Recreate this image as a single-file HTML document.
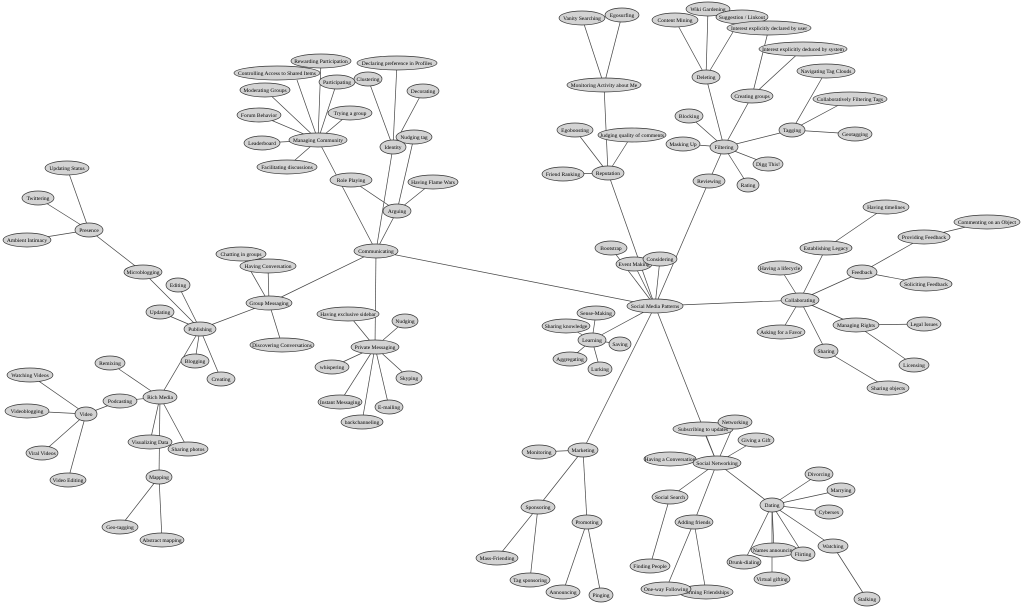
<!DOCTYPE html>
<html><head><meta charset="utf-8"><style>
html,body{margin:0;padding:0;background:#fff;}
svg{display:block}
ellipse{fill:#d3d3d3;stroke:#333;stroke-width:0.7}
text{font-family:"Liberation Serif",serif;font-size:5.5px;text-anchor:middle;fill:#000}
line{stroke:#444;stroke-width:0.7}
</style></head><body>
<svg width="1024" height="609" viewBox="0 0 1024 609">
<g>
<line x1="655" y1="306" x2="376" y2="251"/><line x1="655" y1="306" x2="608" y2="173"/><line x1="655" y1="306" x2="709" y2="181"/>
<line x1="655" y1="306" x2="800" y2="300"/><line x1="655" y1="306" x2="592" y2="340"/><line x1="655" y1="306" x2="583" y2="450"/>
<line x1="655" y1="306" x2="717" y2="463"/><line x1="655" y1="306" x2="611" y2="248"/><line x1="655" y1="306" x2="634" y2="264"/><line x1="655" y1="306" x2="660" y2="259"/>
<line x1="709" y1="181" x2="724" y2="147"/>
<line x1="608" y1="173" x2="604" y2="85"/><line x1="608" y1="173" x2="575" y2="130"/><line x1="608" y1="173" x2="632" y2="135"/><line x1="608" y1="173" x2="563" y2="174"/>
<line x1="604" y1="85" x2="582" y2="18"/><line x1="604" y1="85" x2="622" y2="15"/>
<line x1="724" y1="147" x2="706" y2="77"/><line x1="724" y1="147" x2="752" y2="96"/><line x1="724" y1="147" x2="792" y2="130"/><line x1="724" y1="147" x2="689" y2="116"/>
<line x1="724" y1="147" x2="683" y2="144"/><line x1="724" y1="147" x2="768" y2="164"/><line x1="724" y1="147" x2="748" y2="185"/>
<line x1="706" y1="77" x2="675" y2="20"/><line x1="706" y1="77" x2="708" y2="9"/><line x1="706" y1="77" x2="742" y2="17"/>
<line x1="752" y1="96" x2="769" y2="28"/><line x1="752" y1="96" x2="803" y2="49"/>
<line x1="792" y1="130" x2="826" y2="71"/><line x1="792" y1="130" x2="850" y2="99"/><line x1="792" y1="130" x2="855" y2="134"/>
<line x1="800" y1="300" x2="826" y2="248"/><line x1="800" y1="300" x2="780" y2="268"/><line x1="800" y1="300" x2="862" y2="272"/><line x1="800" y1="300" x2="781" y2="332"/>
<line x1="800" y1="300" x2="856" y2="325"/><line x1="800" y1="300" x2="826" y2="351"/>
<line x1="826" y1="248" x2="886" y2="207"/><line x1="862" y1="272" x2="924" y2="237"/><line x1="862" y1="272" x2="926" y2="284"/><line x1="924" y1="237" x2="987" y2="222"/>
<line x1="856" y1="325" x2="924" y2="324"/><line x1="856" y1="325" x2="914" y2="365"/><line x1="826" y1="351" x2="888" y2="388"/>
<line x1="592" y1="340" x2="596" y2="313"/><line x1="592" y1="340" x2="566" y2="326"/><line x1="592" y1="340" x2="620" y2="344"/><line x1="592" y1="340" x2="570" y2="359"/><line x1="592" y1="340" x2="600" y2="369"/>
<line x1="583" y1="450" x2="539" y2="452"/><line x1="583" y1="450" x2="538" y2="507"/><line x1="583" y1="450" x2="587" y2="522"/>
<line x1="538" y1="507" x2="497" y2="558"/><line x1="538" y1="507" x2="530" y2="580"/><line x1="587" y1="522" x2="563" y2="592"/><line x1="587" y1="522" x2="601" y2="595"/>
<line x1="717" y1="463" x2="735" y2="422"/><line x1="717" y1="463" x2="703" y2="429"/><line x1="717" y1="463" x2="756" y2="440"/><line x1="717" y1="463" x2="670" y2="459"/>
<line x1="717" y1="463" x2="670" y2="497"/><line x1="717" y1="463" x2="694" y2="522"/><line x1="717" y1="463" x2="772" y2="505"/>
<line x1="670" y1="497" x2="650" y2="566"/><line x1="694" y1="522" x2="666" y2="589"/><line x1="694" y1="522" x2="706" y2="592"/>
<line x1="772" y1="505" x2="819" y2="474"/><line x1="772" y1="505" x2="841" y2="490"/><line x1="772" y1="505" x2="829" y2="512"/><line x1="772" y1="505" x2="774" y2="550"/>
<line x1="772" y1="505" x2="803" y2="554"/><line x1="772" y1="505" x2="744" y2="562"/><line x1="772" y1="505" x2="772" y2="579"/><line x1="772" y1="505" x2="833" y2="546"/><line x1="833" y1="546" x2="867" y2="599"/>
<line x1="376" y1="251" x2="318" y2="140"/><line x1="376" y1="251" x2="393" y2="147"/><line x1="376" y1="251" x2="397" y2="211"/><line x1="376" y1="251" x2="269" y2="303"/><line x1="376" y1="251" x2="375" y2="347"/>
<line x1="318" y1="140" x2="321" y2="61"/><line x1="318" y1="140" x2="297" y2="80"/><line x1="318" y1="140" x2="337" y2="82"/><line x1="318" y1="140" x2="265" y2="90"/>
<line x1="318" y1="140" x2="259" y2="115"/><line x1="318" y1="140" x2="350" y2="113"/><line x1="318" y1="140" x2="262" y2="143"/><line x1="318" y1="140" x2="287" y2="167"/>
<line x1="393" y1="147" x2="368" y2="79"/><line x1="393" y1="147" x2="397" y2="63"/><line x1="393" y1="147" x2="423" y2="91"/>
<line x1="397" y1="211" x2="351" y2="180"/><line x1="397" y1="211" x2="433" y2="182"/><line x1="397" y1="211" x2="414" y2="137"/>
<line x1="269" y1="303" x2="200" y2="329"/><line x1="269" y1="303" x2="268" y2="266"/><line x1="269" y1="303" x2="241" y2="254"/><line x1="269" y1="303" x2="282" y2="345"/>
<line x1="200" y1="329" x2="143" y2="272"/><line x1="200" y1="329" x2="178" y2="285"/><line x1="200" y1="329" x2="160" y2="312"/><line x1="200" y1="329" x2="195" y2="361"/><line x1="200" y1="329" x2="221" y2="379"/><line x1="200" y1="329" x2="160" y2="397"/>
<line x1="143" y1="272" x2="89" y2="230"/><line x1="89" y1="230" x2="67" y2="168"/><line x1="89" y1="230" x2="38" y2="198"/><line x1="89" y1="230" x2="27" y2="240"/>
<line x1="160" y1="397" x2="110" y2="363"/><line x1="160" y1="397" x2="120" y2="401"/><line x1="160" y1="397" x2="150" y2="442"/><line x1="160" y1="397" x2="188" y2="449"/><line x1="160" y1="397" x2="159" y2="477"/>
<line x1="120" y1="401" x2="86" y2="414"/><line x1="86" y1="414" x2="30" y2="375"/><line x1="86" y1="414" x2="27" y2="411"/><line x1="86" y1="414" x2="42" y2="453"/><line x1="86" y1="414" x2="68" y2="480"/>
<line x1="159" y1="477" x2="120" y2="527"/><line x1="159" y1="477" x2="162" y2="540"/>
<line x1="375" y1="347" x2="348" y2="314"/><line x1="375" y1="347" x2="405" y2="321"/><line x1="375" y1="347" x2="332" y2="367"/><line x1="375" y1="347" x2="409" y2="378"/>
<line x1="375" y1="347" x2="340" y2="402"/><line x1="375" y1="347" x2="389" y2="407"/><line x1="375" y1="347" x2="362" y2="422"/>
</g>
<g>
<ellipse cx="582" cy="18" rx="23" ry="7"/><text x="582" y="20">Vanity Searching</text>
<ellipse cx="622" cy="15" rx="17" ry="7"/><text x="622" y="17">Egosurfing</text>
<ellipse cx="604" cy="85" rx="37" ry="7"/><text x="604" y="87">Monitoring Activity about Me</text>
<ellipse cx="708" cy="9" rx="22" ry="7"/><text x="708" y="11">Wiki Gardening</text>
<ellipse cx="675" cy="20" rx="23" ry="7"/><text x="675" y="22">Content Mining</text>
<ellipse cx="742" cy="17" rx="26" ry="7"/><text x="742" y="19">Suggestion / Linkout</text>
<ellipse cx="769" cy="28" rx="42" ry="7"/><text x="769" y="30">Interest explicitly declared by user</text>
<ellipse cx="803" cy="49" rx="44" ry="7"/><text x="803" y="51">Interest explicitly deduced by system</text>
<ellipse cx="706" cy="77" rx="14" ry="7"/><text x="706" y="79">Deleting</text>
<ellipse cx="752" cy="96" rx="21" ry="7"/><text x="752" y="98">Creating groups</text>
<ellipse cx="826" cy="71" rx="29" ry="7"/><text x="826" y="73">Navigating Tag Clouds</text>
<ellipse cx="850" cy="99" rx="37" ry="7"/><text x="850" y="101">Collaboratively Filtering Tags</text>
<ellipse cx="792" cy="130" rx="13" ry="7"/><text x="792" y="132">Tagging</text>
<ellipse cx="855" cy="134" rx="17" ry="7"/><text x="855" y="136">Geotagging</text>
<ellipse cx="689" cy="116" rx="14" ry="7"/><text x="689" y="118">Blocking</text>
<ellipse cx="683" cy="144" rx="17" ry="7"/><text x="683" y="146">Masking Up</text>
<ellipse cx="724" cy="147" rx="14" ry="7"/><text x="724" y="149">Filtering</text>
<ellipse cx="768" cy="164" rx="15" ry="7"/><text x="768" y="166">Digg This!</text>
<ellipse cx="748" cy="185" rx="11" ry="7"/><text x="748" y="187">Rating</text>
<ellipse cx="709" cy="181" rx="16" ry="7"/><text x="709" y="183">Reviewing</text>
<ellipse cx="575" cy="130" rx="18" ry="7"/><text x="575" y="132">Egoboosting</text>
<ellipse cx="632" cy="135" rx="34" ry="7"/><text x="632" y="137">Judging quality of comments</text>
<ellipse cx="563" cy="174" rx="21" ry="7"/><text x="563" y="176">Friend Ranking</text>
<ellipse cx="608" cy="173" rx="16" ry="7"/><text x="608" y="175">Reputation</text>
<ellipse cx="611" cy="248" rx="16" ry="7"/><text x="611" y="250">Bootstrap</text>
<ellipse cx="634" cy="264" rx="18" ry="7"/><text x="634" y="266">Event Making</text>
<ellipse cx="660" cy="259" rx="17" ry="7"/><text x="660" y="261">Considering</text>
<ellipse cx="655" cy="306" rx="28" ry="7"/><text x="655" y="308">Social Media Patterns</text>
<ellipse cx="826" cy="248" rx="26" ry="7"/><text x="826" y="250">Establishing Legacy</text>
<ellipse cx="886" cy="207" rx="23" ry="7"/><text x="886" y="209">Having timelines</text>
<ellipse cx="987" cy="222" rx="33" ry="7"/><text x="987" y="224">Commenting on an Object</text>
<ellipse cx="924" cy="237" rx="26" ry="7"/><text x="924" y="239">Providing Feedback</text>
<ellipse cx="780" cy="268" rx="22" ry="7"/><text x="780" y="270">Having a lifecycle</text>
<ellipse cx="862" cy="272" rx="15" ry="7"/><text x="862" y="274">Feedback</text>
<ellipse cx="926" cy="284" rx="26" ry="7"/><text x="926" y="286">Soliciting Feedback</text>
<ellipse cx="800" cy="300" rx="19" ry="7"/><text x="800" y="302">Collaborating</text>
<ellipse cx="781" cy="332" rx="24" ry="7"/><text x="781" y="334">Asking for a Favor</text>
<ellipse cx="856" cy="325" rx="23" ry="7"/><text x="856" y="327">Managing Rights</text>
<ellipse cx="924" cy="324" rx="17" ry="7"/><text x="924" y="326">Legal Issues</text>
<ellipse cx="914" cy="365" rx="15" ry="7"/><text x="914" y="367">Licensing</text>
<ellipse cx="826" cy="351" rx="12" ry="7"/><text x="826" y="353">Sharing</text>
<ellipse cx="888" cy="388" rx="21" ry="7"/><text x="888" y="390">Sharing objects</text>
<ellipse cx="596" cy="313" rx="19" ry="7"/><text x="596" y="315">Sense-Making</text>
<ellipse cx="566" cy="326" rx="24" ry="7"/><text x="566" y="328">Sharing knowledge</text>
<ellipse cx="592" cy="340" rx="14" ry="7"/><text x="592" y="342">Learning</text>
<ellipse cx="620" cy="344" rx="11" ry="7"/><text x="620" y="346">Saving</text>
<ellipse cx="570" cy="359" rx="17" ry="7"/><text x="570" y="361">Aggregating</text>
<ellipse cx="600" cy="369" rx="12" ry="7"/><text x="600" y="371">Lurking</text>
<ellipse cx="539" cy="452" rx="17" ry="7"/><text x="539" y="454">Monitoring</text>
<ellipse cx="583" cy="450" rx="15" ry="7"/><text x="583" y="452">Marketing</text>
<ellipse cx="538" cy="507" rx="17" ry="7"/><text x="538" y="509">Sponsoring</text>
<ellipse cx="587" cy="522" rx="15" ry="7"/><text x="587" y="524">Promoting</text>
<ellipse cx="497" cy="558" rx="21" ry="7"/><text x="497" y="560">Mass-Friending</text>
<ellipse cx="530" cy="580" rx="20" ry="7"/><text x="530" y="582">Tag sponsoring</text>
<ellipse cx="563" cy="592" rx="17" ry="7"/><text x="563" y="594">Announcing</text>
<ellipse cx="601" cy="595" rx="12" ry="7"/><text x="601" y="597">Pinging</text>
<ellipse cx="703" cy="429" rx="30" ry="7"/><text x="703" y="431">Subscribing to updates</text>
<ellipse cx="735" cy="422" rx="17" ry="7"/><text x="735" y="424">Networking</text>
<ellipse cx="756" cy="440" rx="18" ry="7"/><text x="756" y="442">Giving a Gift</text>
<ellipse cx="670" cy="459" rx="26" ry="7"/><text x="670" y="461">Having a Conversation</text>
<ellipse cx="717" cy="463" rx="24" ry="7"/><text x="717" y="465">Social Networking</text>
<ellipse cx="670" cy="497" rx="18" ry="7"/><text x="670" y="499">Social Search</text>
<ellipse cx="694" cy="522" rx="19" ry="7"/><text x="694" y="524">Adding friends</text>
<ellipse cx="650" cy="566" rx="20" ry="7"/><text x="650" y="568">Finding People</text>
<ellipse cx="706" cy="592" rx="27" ry="7"/><text x="706" y="594">Forming Friendships</text>
<ellipse cx="666" cy="589" rx="25" ry="7"/><text x="666" y="591">One-way Following</text>
<ellipse cx="772" cy="505" rx="12" ry="7"/><text x="772" y="507">Dating</text>
<ellipse cx="819" cy="474" rx="14" ry="7"/><text x="819" y="476">Divorcing</text>
<ellipse cx="841" cy="490" rx="14" ry="7"/><text x="841" y="492">Marrying</text>
<ellipse cx="829" cy="512" rx="14" ry="7"/><text x="829" y="514">Cybersex</text>
<ellipse cx="744" cy="562" rx="17" ry="7"/><text x="744" y="564">Drunk-dialing</text>
<ellipse cx="774" cy="550" rx="23" ry="7"/><text x="774" y="552">Names announcing</text>
<ellipse cx="803" cy="554" rx="12" ry="7"/><text x="803" y="556">Flirting</text>
<ellipse cx="772" cy="579" rx="18" ry="7"/><text x="772" y="581">Virtual gifting</text>
<ellipse cx="833" cy="546" rx="15" ry="7"/><text x="833" y="548">Watching</text>
<ellipse cx="867" cy="599" rx="13" ry="7"/><text x="867" y="601">Stalking</text>
<ellipse cx="67" cy="168" rx="22" ry="7"/><text x="67" y="170">Updating Status</text>
<ellipse cx="38" cy="198" rx="16" ry="7"/><text x="38" y="200">Twittering</text>
<ellipse cx="89" cy="230" rx="14" ry="7"/><text x="89" y="232">Presence</text>
<ellipse cx="27" cy="240" rx="24" ry="7"/><text x="27" y="242">Ambient Intimacy</text>
<ellipse cx="143" cy="272" rx="19" ry="7"/><text x="143" y="274">Microblogging</text>
<ellipse cx="178" cy="285" rx="12" ry="7"/><text x="178" y="287">Editing</text>
<ellipse cx="160" cy="312" rx="14" ry="7"/><text x="160" y="314">Updating</text>
<ellipse cx="200" cy="329" rx="16" ry="7"/><text x="200" y="331">Publishing</text>
<ellipse cx="195" cy="361" rx="14" ry="7"/><text x="195" y="363">Blogging</text>
<ellipse cx="221" cy="379" rx="14" ry="7"/><text x="221" y="381">Creating</text>
<ellipse cx="241" cy="254" rx="25" ry="7"/><text x="241" y="256">Chatting in groups</text>
<ellipse cx="268" cy="266" rx="28" ry="7"/><text x="268" y="268">Having Conversation</text>
<ellipse cx="269" cy="303" rx="23" ry="7"/><text x="269" y="305">Group Messaging</text>
<ellipse cx="282" cy="345" rx="32" ry="7"/><text x="282" y="347">Discovering Conversations</text>
<ellipse cx="376" cy="251" rx="22" ry="7"/><text x="376" y="253">Communicating</text>
<ellipse cx="321" cy="61" rx="30" ry="7"/><text x="321" y="63">Rewarding Participation</text>
<ellipse cx="277" cy="73" rx="43" ry="7"/><text x="277" y="75">Controlling Access to Shared Items</text>
<ellipse cx="397" cy="63" rx="40" ry="7"/><text x="397" y="65">Declaring preference in Profiles</text>
<ellipse cx="368" cy="79" rx="14" ry="7"/><text x="368" y="81">Clustering</text>
<ellipse cx="337" cy="82" rx="18" ry="7"/><text x="337" y="84">Participating</text>
<ellipse cx="265" cy="90" rx="25" ry="7"/><text x="265" y="92">Moderating Groups</text>
<ellipse cx="423" cy="91" rx="16" ry="7"/><text x="423" y="93">Decorating</text>
<ellipse cx="259" cy="115" rx="22" ry="7"/><text x="259" y="117">Forum Behavior</text>
<ellipse cx="350" cy="113" rx="22" ry="7"/><text x="350" y="115">Trying a group</text>
<ellipse cx="318" cy="140" rx="29" ry="7"/><text x="318" y="142">Managing Community</text>
<ellipse cx="262" cy="143" rx="18" ry="7"/><text x="262" y="145">Leaderboard</text>
<ellipse cx="287" cy="167" rx="30" ry="7"/><text x="287" y="169">Facilitating discussions</text>
<ellipse cx="414" cy="137" rx="18" ry="7"/><text x="414" y="139">Nudging tag</text>
<ellipse cx="393" cy="147" rx="13" ry="7"/><text x="393" y="149">Identity</text>
<ellipse cx="351" cy="180" rx="21" ry="7"/><text x="351" y="182">Role Playing</text>
<ellipse cx="433" cy="182" rx="25" ry="7"/><text x="433" y="184">Having Flame Wars</text>
<ellipse cx="397" cy="211" rx="14" ry="7"/><text x="397" y="213">Arguing</text>
<ellipse cx="348" cy="314" rx="31" ry="7"/><text x="348" y="316">Having exclusive sidebar</text>
<ellipse cx="405" cy="321" rx="13" ry="7"/><text x="405" y="323">Nudging</text>
<ellipse cx="375" cy="347" rx="24" ry="7"/><text x="375" y="349">Private Messaging</text>
<ellipse cx="332" cy="367" rx="17" ry="7"/><text x="332" y="369">whispering</text>
<ellipse cx="409" cy="378" rx="13" ry="7"/><text x="409" y="380">Skyping</text>
<ellipse cx="340" cy="402" rx="22" ry="7"/><text x="340" y="404">Instant Messaging</text>
<ellipse cx="389" cy="407" rx="14" ry="7"/><text x="389" y="409">E-mailing</text>
<ellipse cx="362" cy="422" rx="21" ry="7"/><text x="362" y="424">backchanneling</text>
<ellipse cx="110" cy="363" rx="15" ry="7"/><text x="110" y="365">Remixing</text>
<ellipse cx="30" cy="375" rx="23" ry="7"/><text x="30" y="377">Watching Videos</text>
<ellipse cx="120" cy="401" rx="17" ry="7"/><text x="120" y="403">Podcasting</text>
<ellipse cx="160" cy="397" rx="17" ry="7"/><text x="160" y="399">Rich Media</text>
<ellipse cx="27" cy="411" rx="22" ry="7"/><text x="27" y="413">Videoblogging</text>
<ellipse cx="86" cy="414" rx="11" ry="7"/><text x="86" y="416">Video</text>
<ellipse cx="150" cy="442" rx="22" ry="7"/><text x="150" y="444">Visualizing Data</text>
<ellipse cx="188" cy="449" rx="20" ry="7"/><text x="188" y="451">Sharing photos</text>
<ellipse cx="42" cy="453" rx="16" ry="7"/><text x="42" y="455">Viral Videos</text>
<ellipse cx="159" cy="477" rx="13" ry="7"/><text x="159" y="479">Mapping</text>
<ellipse cx="68" cy="480" rx="18" ry="7"/><text x="68" y="482">Video Editing</text>
<ellipse cx="120" cy="527" rx="18" ry="7"/><text x="120" y="529">Geo-tagging</text>
<ellipse cx="162" cy="540" rx="22" ry="7"/><text x="162" y="542">Abstract mapping</text>
</g>
</svg>
</body></html>
